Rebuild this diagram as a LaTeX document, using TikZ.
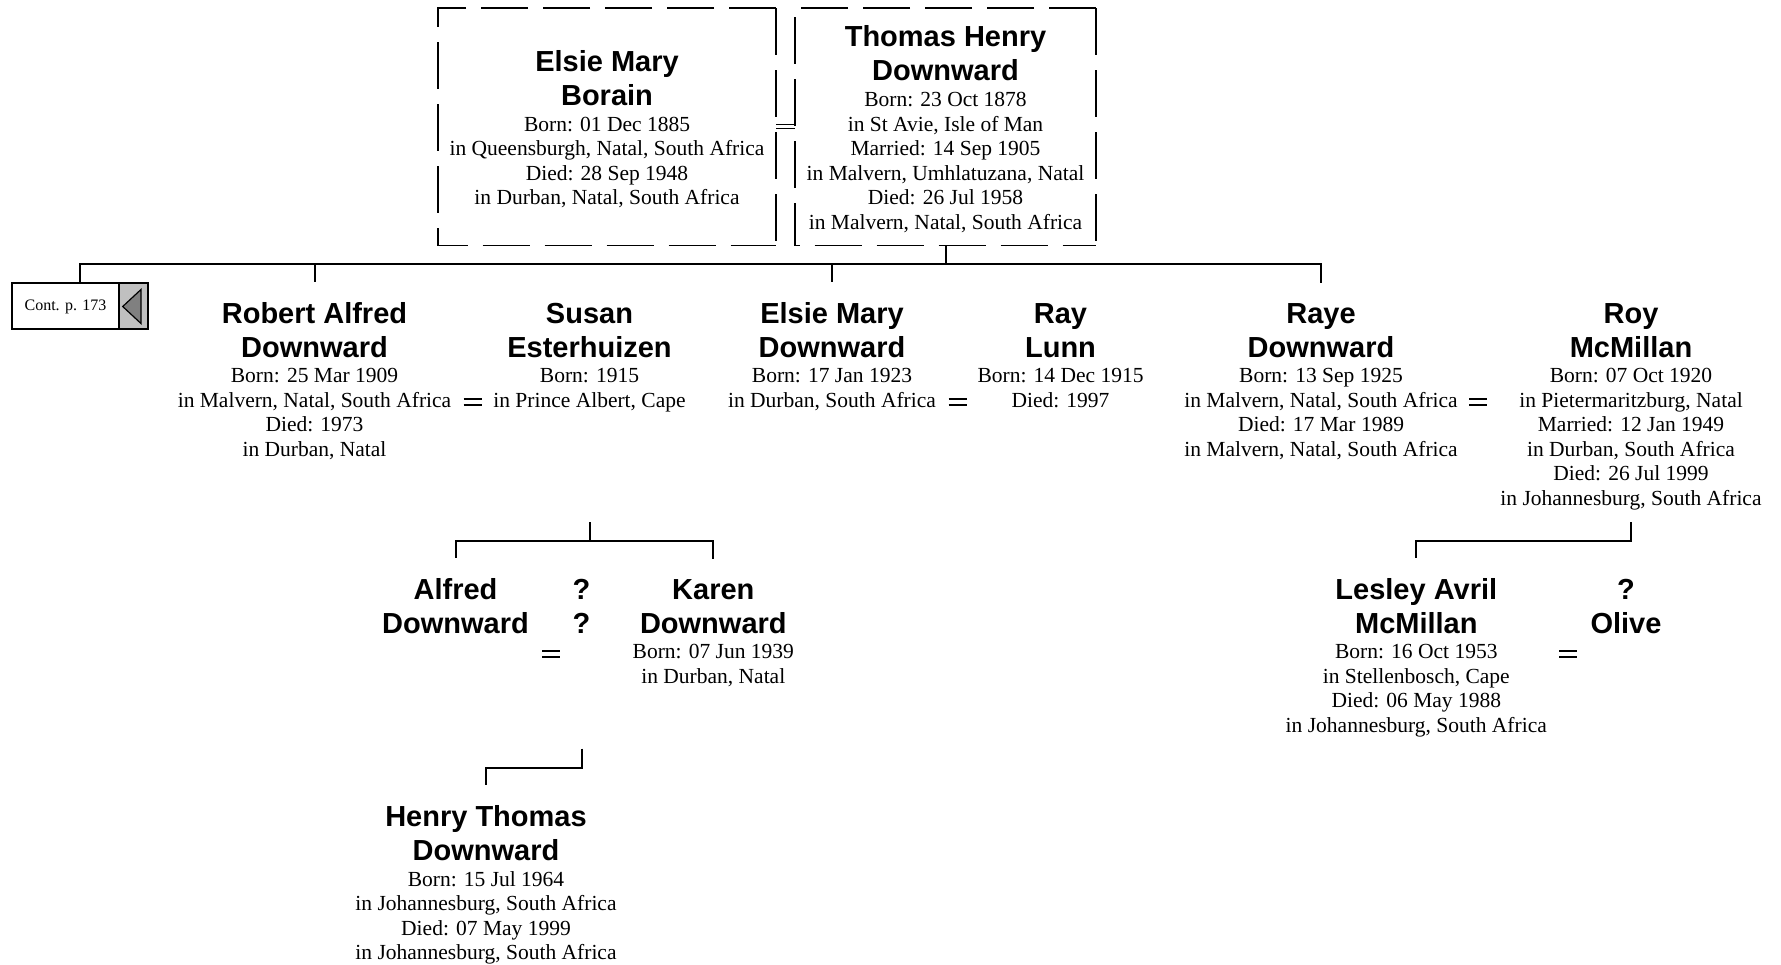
\documentclass[tikz,border=0pt]{standalone}
\usepackage{fontspec}
\setmainfont{Liberation Serif}
\newfontfamily\namesans{Liberation Sans}
\definecolor{contgray}{RGB}{192,192,192}
\definecolor{trigray}{RGB}{128,128,128}
\tikzset{
  namenode/.style={anchor=south, inner sep=0pt, align=center,
    font=\namesans\bfseries\fontsize{14.5}{17}\selectfont},
  infonode/.style={anchor=north, inner sep=0pt, align=center,
    font=\fontsize{10.75}{12.25}\selectfont},
  link/.style={line width=1pt},
  spouse/.style={line width=0.7pt},
  couplebox/.style={inner sep=0pt, outer sep=0pt},
  dashedge/.style={line width=0.6pt, dash pattern=on 23.5pt off 7.5pt},
  contbox/.style={draw, line width=1pt, inner sep=0pt, minimum width=67.85pt, minimum height=23pt},
  contlabel/.style={inner sep=0pt, font=\fontsize{8}{9.6}\selectfont},
}
\newcommand\marrysign[1]{%
  \draw[spouse] ([xshift=-4.5pt,yshift=1.5pt]#1) -- ++(9pt,0pt)
                ([xshift=-4.5pt,yshift=-1.5pt]#1) -- ++(9pt,0pt);}
\newcommand\dashframe[1]{%
  \draw[dashedge] (#1.north east) -- (#1.north west) -- (#1.south west) -- (#1.south east);
  \draw[dashedge] (#1.north east) -- (#1.south east);}
\begin{document}
\begin{tikzpicture}[x=0.5pt,y=-0.5pt]
\useasboundingbox (0,0) rectangle (1781,964);

% ---- top couple
\node[couplebox, minimum width=169pt, minimum height=118.75pt] (boxE) at (607,126.75) {};
\node[couplebox, minimum width=150.5pt, minimum height=118.75pt] (boxT) at (945.5,126.75) {};
\dashframe{boxE}
\dashframe{boxT}
\node[namenode] (embN) at (607,106) {Elsie Mary\\Borain};
\node[infonode] (embI) at (607,116.5) {Born: 01 Dec 1885\\in Queensburgh, Natal, South Africa\\Died: 28 Sep 1948\\in Durban, Natal, South Africa};
\node[namenode] (thdN) at (945.5,81) {Thomas Henry\\Downward};
\node[infonode] (thdI) at (945.5,92) {Born: 23 Oct 1878\\in St Avie, Isle of Man\\Married: 14 Sep 1905\\in Malvern, Umhlatuzana, Natal\\Died: 26 Jul 1958\\in Malvern, Natal, South Africa};
\draw[spouse] ([yshift=1.2pt]boxE.east) -- ([yshift=1.2pt]boxT.west);
\draw[spouse] ([yshift=-1pt]boxE.east) -- ([yshift=-1pt]boxT.west);

% ---- continuation box
\fill[contgray] (119.3,283.3) rectangle (147.7,329.3);
\filldraw[fill=trigray, draw=black, line width=0.6pt] (122.7,306.5) -- (141,289.5) -- (141,323.5) -- cycle;
\node[contbox] (cont) at (79.85,306.3) {};
\draw[line width=1pt] (cont.north -| 119.3,0) -- (cont.south -| 119.3,0);
\node[contlabel] (contL) at (65.5,306.5) {Cont. p. 173};

% ---- row 2
\node[namenode] (radN) at (314.5,358) {Robert Alfred\\Downward};
\node[infonode] (radI) at (314.5,368) {Born: 25 Mar 1909\\in Malvern, Natal, South Africa\\Died: 1973\\in Durban, Natal};
\node[namenode] (sueN) at (589.5,358) {Susan\\Esterhuizen};
\node[infonode] (sueI) at (589.5,368) {Born: 1915\\in Prince Albert, Cape};
\node[namenode] (emdN) at (832,358) {Elsie Mary\\Downward};
\node[infonode] (emdI) at (832,368) {Born: 17 Jan 1923\\in Durban, South Africa};
\node[namenode] (rlN) at (1060.5,358) {Ray\\Lunn};
\node[infonode] (rlI) at (1060.5,368) {Born: 14 Dec 1915\\Died: 1997};
\node[namenode] (rdwN) at (1321,358) {Raye\\Downward};
\node[infonode] (rdwI) at (1321,368) {Born: 13 Sep 1925\\in Malvern, Natal, South Africa\\Died: 17 Mar 1989\\in Malvern, Natal, South Africa};
\node[namenode] (rmN) at (1631,358) {Roy\\McMillan};
\node[infonode] (rmI) at (1631,368) {Born: 07 Oct 1920\\in Pietermaritzburg, Natal\\Married: 12 Jan 1949\\in Durban, South Africa\\Died: 26 Jul 1999\\in Johannesburg, South Africa};

\coordinate (m1) at (472.5,402);
\coordinate (m2) at (957.5,402);
\coordinate (m3) at (1478,402);
\marrysign{m1}\marrysign{m2}\marrysign{m3}

% ---- row 3
\node[namenode] (adN) at (455.5,634) {Alfred\\Downward};
\node[namenode] (qqN) at (581.5,634) {?\\?};
\node[namenode] (kdN) at (713.3,634) {Karen\\Downward};
\node[infonode] (kdI) at (713.3,644) {Born: 07 Jun 1939\\in Durban, Natal};
\node[namenode] (lamN) at (1416.3,634) {Lesley Avril\\McMillan};
\node[infonode] (lamI) at (1416.3,644) {Born: 16 Oct 1953\\in Stellenbosch, Cape\\Died: 06 May 1988\\in Johannesburg, South Africa};
\node[namenode] (olN) at (1626,634) {?\\Olive};
\coordinate (m4) at (551,654);
\coordinate (m5) at (1568,654);
\marrysign{m4}\marrysign{m5}

% ---- row 4
\node[namenode] (htdN) at (486,861) {Henry Thomas\\Downward};
\node[infonode] (htdI) at (486,871) {Born: 15 Jul 1964\\in Johannesburg, South Africa\\Died: 07 May 1999\\in Johannesburg, South Africa};

% ---- drop points
\coordinate (radD) at ([yshift=10pt]radN.north);
\coordinate (emdD) at ([yshift=10pt]emdN.north);
\coordinate (rdwD) at ([yshift=10pt]rdwN.north);
\coordinate (adD) at ([yshift=10pt]adN.north);
\coordinate (kdD) at ([yshift=10pt]kdN.north);
\coordinate (lamD) at ([yshift=10pt]lamN.north);
\coordinate (htdD) at ([yshift=10pt]htdN.north);
\coordinate (bus1) at (0,264);
\coordinate (top2) at (0,522);
\coordinate (bus2) at (0,540.6);
\coordinate (top3) at (0,748.5);
\coordinate (bus3) at (0,767.8);

% ---- connectors
\draw[link] (boxT.south) -- (boxT.south |- bus1);
\draw[link] (cont.north) -- (cont.north |- bus1) -- (rdwD |- bus1) -- (rdwD);
\draw[link] (radD |- bus1) -- (radD);
\draw[link] (emdD |- bus1) -- (emdD);

\draw[link] (sueN.south |- top2) -- (sueN.south |- bus2);
\draw[link] (adD) -- (adD |- bus2) -- (kdD |- bus2) -- (kdD);
\draw[link] (rmN.south |- top2) -- (rmN.south |- bus2) -- (lamD |- bus2) -- (lamD);

\draw[link] (qqN.south |- top3) -- (qqN.south |- bus3) -- (htdD |- bus3) -- (htdD);
\end{tikzpicture}
\end{document}
